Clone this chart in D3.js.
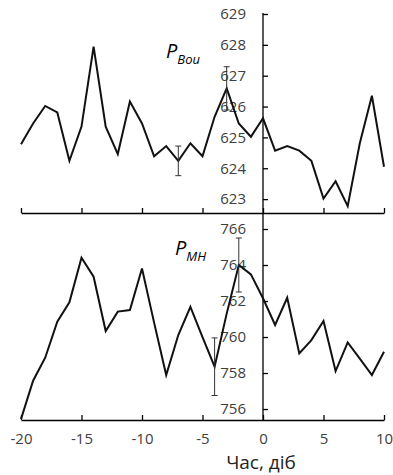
<!DOCTYPE html>
<html>
<head>
<meta charset="utf-8">
<script src="https://cdn.jsdelivr.net/npm/d3@7"></script>
<style>
  body { margin: 0; background: #fff; }
  svg { display: block; }
  text { font-family: "Open Sans", sans-serif; }
</style>
</head>
<body>
<div id="chart"></div>
<script>
// days relative to the event
const days = d3.range(-20, 11);
// upper panel, P_Bou
const pBou = [624.78, 625.45, 626.02, 625.81, 624.24, 625.35, 627.94, 625.35, 624.46, 626.16,
              625.45, 624.39, 624.72, 624.24, 624.81, 624.39, 625.67, 626.59, 625.45, 625.02,
              625.62, 624.57, 624.72, 624.57, 624.24, 623.02, 623.58, 622.77, 624.81, 626.35, 624.05];
// lower panel, P_MH
const pMH = [755.44, 757.57, 758.85, 760.85, 761.93, 764.41, 763.35, 760.33, 761.41, 761.5,
             763.81, 760.8, 757.89, 760.11, 761.68, 760.0, 758.35, 761.3, 764.0, 763.48,
             762.15, 760.67, 762.18, 759.09, 759.83, 760.89, 758.11, 759.7, 758.8, 757.89, 759.18];
// error bars [day, value, half-width]
const errBou = [[-7, 624.24, 0.48], [-3, 626.59, 0.7]];
const errMH = [[-4, 758.35, 1.6], [-2, 764.0, 1.5]];
const xTicks = [-20, -15, -10, -5, 0, 5, 10];
const yTicksBou = [623, 624, 625, 626, 627, 628, 629];
const yTicksMH = [756, 758, 760, 762, 764, 766];

const width = 393, height = 475;
const svg = d3.select("#chart").append("svg")
    .attr("width", width)
    .attr("height", height);

const x = d3.scaleLinear().domain([-20, 10]).range([21, 384]);
const yTop = d3.scaleLinear().domain([622.55, 629]).range([213, 14]);
const yBot = d3.scaleLinear().domain([755.39, 766]).range([420, 229]);

const line = y => d3.line().x((d, i) => x(days[i])).y(d => y(d));

function panel(y, values, errs, yTicks, showLabels, yTopEnd) {
    const g = svg.append("g");

    // x axis, ticks pointing up
    const xa = d3.axisBottom(x).tickValues(xTicks)
        .tickSizeInner(-5).tickSizeOuter(0).tickPadding(13)
        .tickFormat(showLabels ? (d => String(d)) : "");
    const gx = g.append("g")
        .attr("transform", `translate(0,${y.range()[0]})`)
        .call(xa);
    gx.select(".domain").attr("stroke", "#000").attr("stroke-width", 1.3);
    gx.selectAll(".tick line").attr("stroke", "#000").attr("stroke-width", 1.3);
    gx.selectAll("text").attr("font-size", 15).attr("fill", "#404040");

    // y axis at day 0, ticks to the right, labels left
    const ya = d3.axisLeft(y).tickValues(yTicks)
        .tickSizeInner(-5).tickSizeOuter(0).tickPadding(17)
        .tickFormat(d => String(d));
    const gy = g.append("g")
        .attr("transform", `translate(${x(0)},0)`)
        .call(ya);
    gy.select(".domain").remove();
    gy.append("line")
        .attr("y1", y.range()[0]).attr("y2", yTopEnd)
        .attr("stroke", "#000").attr("stroke-width", 1.3);
    gy.selectAll(".tick line").attr("stroke", "#000").attr("stroke-width", 1.3);
    gy.selectAll("text").attr("font-size", 15).attr("fill", "#404040");

    // series line
    g.append("path")
        .datum(values)
        .attr("fill", "none")
        .attr("stroke", "#111")
        .attr("stroke-width", 2)
        .attr("stroke-linejoin", "miter")
        .attr("d", line(y));

    // error bars
    const eb = g.selectAll("g.err").data(errs).enter().append("g").attr("class", "err");
    eb.append("line")
        .attr("x1", d => x(d[0])).attr("x2", d => x(d[0]))
        .attr("y1", d => y(d[1] - d[2])).attr("y2", d => y(d[1] + d[2]));
    eb.append("line")
        .attr("x1", d => x(d[0]) - 3).attr("x2", d => x(d[0]) + 3)
        .attr("y1", d => y(d[1] + d[2])).attr("y2", d => y(d[1] + d[2]));
    eb.append("line")
        .attr("x1", d => x(d[0]) - 3).attr("x2", d => x(d[0]) + 3)
        .attr("y1", d => y(d[1] - d[2])).attr("y2", d => y(d[1] - d[2]));
    eb.selectAll("line").attr("stroke", "#333").attr("stroke-width", 1);
}

panel(yTop, pBou, errBou, yTicksBou, false, 13);
panel(yBot, pMH, errMH, yTicksMH, true, 213);

// series names
function seriesLabel(px, py, sub) {
    const t = svg.append("text")
        .attr("x", px).attr("y", py)
        .attr("font-style", "italic")
        .attr("fill", "#000");
    t.append("tspan").attr("font-size", 20).text("P");
    t.append("tspan").attr("font-size", 13).attr("dy", 6).text(sub);
}
seriesLabel(166, 58, "Bou");
seriesLabel(175, 255, "MH");

// x axis title
svg.append("text")
    .attr("x", 261).attr("y", 469)
    .attr("text-anchor", "middle")
    .attr("font-size", 19)
    .attr("fill", "#222")
    .text("Час, діб");
</script>
</body>
</html>
